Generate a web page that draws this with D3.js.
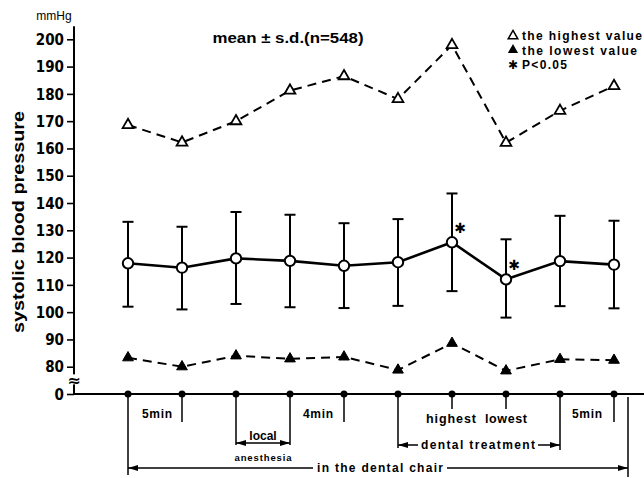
<!DOCTYPE html>
<html><head><meta charset="utf-8">
<script src="https://cdn.jsdelivr.net/npm/d3@7/dist/d3.min.js"></script>
<style>
html,body{margin:0;padding:0;background:#fff;}
svg text{font-family:"Liberation Sans",Arial,sans-serif;font-weight:bold;fill:#000;}
</style></head>
<body>
<svg id="chart" width="644" height="478"></svg>
<script>
// ---------- data ----------
const categories = ["pre1","pre2","beforeLA","afterLA","4min","beforeTx","highest","lowest","afterTx","5min"];
const meanValues = [117.9,116.3,119.7,118.8,117.0,118.3,125.6,112.0,118.7,117.4];
const sdUpper    = [133.1,131.3,136.7,135.7,132.6,134.1,143.5,126.7,135.3,133.5];
const sdLower    = [102.0,101.0,103.0,101.8,101.5,102.3,107.7,98.0,102.2,101.4];
const highestValues = [168.6,162.2,170.0,181.2,186.5,178.1,197.9,162.1,173.8,182.9];
const lowestValues  = [83.3,80.0,84.0,82.9,83.6,78.8,88.6,78.5,82.7,82.4];
const significant   = [false,false,false,false,false,false,true,true,false,false];
const yTickValues = [70,80,90,100,110,120,130,140,150,160,170,180,190,200];
const yTickLabels = ["0","80","90","100","110","120","130","140","150","160","170","180","190","200"];

// ---------- scales ----------
const svg = d3.select("#chart");
const x = d3.scalePoint().domain(categories).range([128,614]).padding(0);
const y = d3.scaleLinear().domain([70,200]).range([394,39.3]);
const axisX = 74, baseY = y(70);

// ---------- y axis ----------
const yAxis = d3.axisLeft(y).tickValues(yTickValues)
  .tickFormat((d,i)=>yTickLabels[i]).tickSize(7).tickPadding(3);
const gY = svg.append("g").attr("transform",`translate(${axisX},0)`).call(yAxis);
gY.select(".domain").remove();
gY.selectAll(".tick line").attr("stroke","#000").attr("stroke-width",1.6);
gY.selectAll(".tick text").style("font-family","'Liberation Sans Narrow','DejaVu Sans Condensed',sans-serif")
  .style("font-weight","bold").style("font-size","15px").attr("dy","0.35em");
svg.append("line").attr("x1",axisX).attr("x2",axisX).attr("y1",y(204.8)).attr("y2",baseY)
  .attr("stroke","#000").attr("stroke-width",2);
// axis break mark
svg.append("rect").attr("x",axisX-5).attr("y",y(75)-6).attr("width",10).attr("height",10).attr("fill","#fff");
svg.append("text").attr("x",axisX).attr("y",y(75)+6).attr("text-anchor","middle")
  .style("font-size","16px").style("font-family","DejaVu Sans").text("≈");

// x baseline
svg.append("line").attr("x1",axisX).attr("x2",644).attr("y1",baseY).attr("y2",baseY)
  .attr("stroke","#000").attr("stroke-width",2);
svg.selectAll(".bdot").data(categories).enter().append("circle")
  .attr("cx",d=>x(d)).attr("cy",baseY).attr("r",3.5).attr("fill","#000");

svg.append("text").attr("x",54).attr("y",20).attr("text-anchor","middle")
  .style("font-size","12px").style("font-weight","normal").text("mmHg");
svg.append("text").attr("transform","translate(24,222) rotate(-90)").attr("text-anchor","middle")
  .style("font-size","17px").attr("textLength",222).attr("lengthAdjust","spacingAndGlyphs").text("systolic blood pressure");

// title
svg.append("text").attr("x",288).attr("y",43).attr("text-anchor","middle")
  .style("font-size","14px").attr("textLength",151).attr("lengthAdjust","spacingAndGlyphs").text("mean ± s.d.(n=548)");

// ---------- series ----------
const pts = categories.map((c,i)=>({c,i}));
const line = key => d3.line().x(d=>x(d.c)).y(d=>y(key[d.i]));

svg.append("path").datum(pts).attr("d",line(highestValues)).attr("fill","none")
  .attr("stroke","#000").attr("stroke-width",2).attr("stroke-dasharray","9,6");
svg.append("path").datum(pts).attr("d",line(lowestValues)).attr("fill","none")
  .attr("stroke","#000").attr("stroke-width",2).attr("stroke-dasharray","9,6");

const tri = d3.symbol().type(d3.symbolTriangle).size(50);
svg.selectAll(".hi").data(pts).enter().append("path")
  .attr("transform",d=>`translate(${x(d.c)},${y(highestValues[d.i])})`)
  .attr("d",tri).attr("fill","#fff").attr("stroke","#000").attr("stroke-width",1.8);
svg.selectAll(".lo").data(pts).enter().append("path")
  .attr("transform",d=>`translate(${x(d.c)},${y(lowestValues[d.i])})`)
  .attr("d",tri).attr("fill","#000").attr("stroke","#000").attr("stroke-width",1);

// error bars
const eb = svg.selectAll(".eb").data(pts).enter().append("g");
eb.append("line").attr("x1",d=>x(d.c)).attr("x2",d=>x(d.c))
  .attr("y1",d=>y(sdUpper[d.i])).attr("y2",d=>y(sdLower[d.i])).attr("stroke","#000").attr("stroke-width",2);
eb.append("line").attr("x1",d=>x(d.c)-5.5).attr("x2",d=>x(d.c)+5.5)
  .attr("y1",d=>y(sdUpper[d.i])).attr("y2",d=>y(sdUpper[d.i])).attr("stroke","#000").attr("stroke-width",2);
eb.append("line").attr("x1",d=>x(d.c)-5.5).attr("x2",d=>x(d.c)+5.5)
  .attr("y1",d=>y(sdLower[d.i])).attr("y2",d=>y(sdLower[d.i])).attr("stroke","#000").attr("stroke-width",2);

svg.append("path").datum(pts).attr("d",line(meanValues)).attr("fill","none")
  .attr("stroke","#000").attr("stroke-width",2.6);
svg.selectAll(".mean").data(pts).enter().append("circle")
  .attr("cx",d=>x(d.c)).attr("cy",d=>y(meanValues[d.i])).attr("r",5.2)
  .attr("fill","#fff").attr("stroke","#000").attr("stroke-width",2);

svg.selectAll(".sig").data(pts.filter(d=>significant[d.i])).enter().append("text")
  .attr("x",d=>x(d.c)+8).attr("y",d=>y(meanValues[d.i])-9).attr("text-anchor","middle")
  .style("font-family","DejaVu Sans").style("font-size","14px").text("✱");

// ---------- legend ----------
const lx = 513;
svg.append("path").attr("transform",`translate(${lx},36)`).attr("d",d3.symbol().type(d3.symbolTriangle).size(40))
  .attr("fill","#fff").attr("stroke","#000").attr("stroke-width",1.5);
svg.append("text").attr("x",522).attr("y",40).style("font-size","12px").attr("textLength",120).attr("lengthAdjust","spacing").text("the highest value");
svg.append("path").attr("transform",`translate(${lx},50)`).attr("d",d3.symbol().type(d3.symbolTriangle).size(45)).attr("fill","#000");
svg.append("text").attr("x",522).attr("y",54.5).style("font-size","12px").attr("textLength",115).attr("lengthAdjust","spacing").text("the lowest value");
svg.append("text").attr("x",lx).attr("y",68.5).attr("text-anchor","middle").style("font-family","DejaVu Sans").style("font-size","12px").text("✱");
svg.append("text").attr("x",522).attr("y",68.5).style("font-size","12px").attr("textLength",45).attr("lengthAdjust","spacing").text("P<0.05");

// ---------- bottom annotations ----------
const vlines = [
  {c:"pre1",y2:475},{c:"pre2",y2:422},{c:"beforeLA",y2:445},{c:"afterLA",y2:445},
  {c:"4min",y2:422},{c:"beforeTx",y2:448},{c:"highest",y2:409},{c:"lowest",y2:409},
  {c:"afterTx",y2:450},{c:"5min",y2:422}];
svg.selectAll(".vl").data(vlines).enter().append("line")
  .attr("x1",d=>x(d.c)).attr("x2",d=>x(d.c)).attr("y1",baseY).attr("y2",d=>d.y2)
  .attr("stroke","#000").attr("stroke-width",1.5);
const chairEnd = x("5min")+14;
svg.append("line").attr("x1",chairEnd).attr("x2",chairEnd).attr("y1",baseY+3).attr("y2",477)
  .attr("stroke","#000").attr("stroke-width",1.5);

const defs = svg.append("defs");
defs.append("marker").attr("id","ah").attr("viewBox","0 0 10 6").attr("refX",10).attr("refY",3)
  .attr("markerWidth",10).attr("markerHeight",6).attr("markerUnits","userSpaceOnUse").attr("orient","auto-start-reverse")
  .append("path").attr("d","M0,0L10,3L0,6Z").attr("fill","#000");

function arrowLine(x1,x2,yy){
  svg.append("line").attr("x1",x1).attr("x2",x2).attr("y1",yy).attr("y2",yy)
    .attr("stroke","#000").attr("stroke-width",1.5).attr("marker-end","url(#ah)");
}
// in the dental chair
arrowLine(313, x("pre1"), 468);
arrowLine(447, chairEnd, 468);
svg.append("text").attr("x",380).attr("y",472).attr("text-anchor","middle").style("font-size","12px")
  .attr("textLength",126).attr("lengthAdjust","spacing").text("in the dental chair");
// dental treatment
arrowLine(418, x("beforeTx"), 445);
arrowLine(538, x("afterTx"), 445);
svg.append("text").attr("x",478).attr("y",449).attr("text-anchor","middle").style("font-size","12px")
  .attr("textLength",114).attr("lengthAdjust","spacing").text("dental treatment");
// local anesthesia
const laMid = (x("beforeLA")+x("afterLA"))/2;
arrowLine(laMid, x("beforeLA"), 443);
arrowLine(laMid, x("afterLA"), 443);
svg.append("text").attr("x",laMid).attr("y",440).attr("text-anchor","middle").style("font-size","12px").text("local");
svg.append("text").attr("x",laMid).attr("y",461).attr("text-anchor","middle").style("font-size","9.5px")
  .attr("textLength",57).attr("lengthAdjust","spacing").text("anesthesia");
// time labels
svg.append("text").attr("x",157).attr("y",418).attr("text-anchor","middle").style("font-size","12px").attr("textLength",30).attr("lengthAdjust","spacing").text("5min");
svg.append("text").attr("x",318).attr("y",418).attr("text-anchor","middle").style("font-size","12px").attr("textLength",30).attr("lengthAdjust","spacing").text("4min");
svg.append("text").attr("x",587).attr("y",418).attr("text-anchor","middle").style("font-size","12px").attr("textLength",30).attr("lengthAdjust","spacing").text("5min");
svg.append("text").attr("x",451).attr("y",423).attr("text-anchor","middle").style("font-size","12.5px").attr("textLength",50).attr("lengthAdjust","spacing").text("highest");
svg.append("text").attr("x",506).attr("y",423).attr("text-anchor","middle").style("font-size","12.5px").attr("textLength",42).attr("lengthAdjust","spacing").text("lowest");
</script>
</body></html>
